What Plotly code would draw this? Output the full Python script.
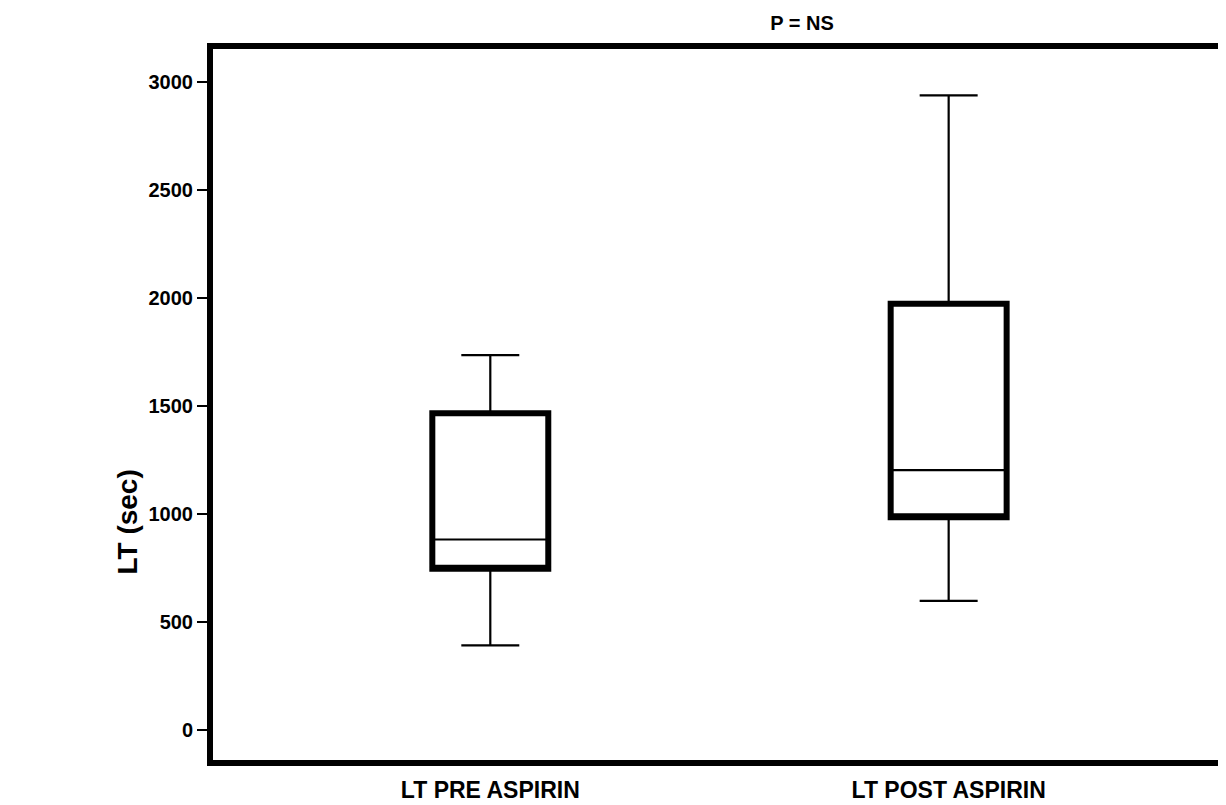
import plotly.graph_objects as go

# box plot summary values (LT in seconds)
groups = ["LT PRE ASPIRIN", "LT POST ASPIRIN"]
lower_fence = [392, 598]
q1 = [746, 985]
median = [882, 1203]
q3 = [1466, 1973]
upper_fence = [1736, 2938]

y_ticks = [0, 500, 1000, 1500, 2000, 2500, 3000]

font_main = "Liberation Sans, Arial, sans-serif"

# the page body has an 8px margin, so the figure is 8px smaller than the window
W, H, PAD = 1226, 805, 8

fig = go.Figure()

# thick outline of the boxes
fig.add_trace(go.Box(
    x=groups,
    q1=q1, median=q1, q3=q3,
    lowerfence=q1, upperfence=q3,
    width=0.253,
    whiskerwidth=0,
    line=dict(color="black", width=6),
    fillcolor="white",
    boxpoints=False,
    hoverinfo="skip",
    showlegend=False,
))

# whiskers, caps and median with thin lines
fig.add_trace(go.Box(
    x=groups,
    q1=q1, median=median, q3=q3,
    lowerfence=lower_fence, upperfence=upper_fence,
    width=0.253,
    whiskerwidth=0.5,
    line=dict(color="black", width=2.2),
    fillcolor="rgba(0,0,0,0)",
    boxpoints=False,
    showlegend=False,
))

fig.update_layout(
    width=W - PAD, height=H - PAD,
    margin=dict(l=213 - PAD, r=0, t=49 - PAD, b=45),
    paper_bgcolor="white",
    plot_bgcolor="white",
    boxmode="overlay",
    font=dict(family=font_main, color="black"),
    title=dict(
        text="<b>P = NS</b>",
        x=(802 - PAD) / (W - PAD), xanchor="center",
        y=1 - (23 - PAD) / (H - PAD), yanchor="middle",
        font=dict(size=20, family=font_main, color="black"),
    ),
)

# y axis label sits below the middle of the plot in the original
fig.add_annotation(
    text="<b>LT (sec)</b>",
    xref="paper", yref="paper",
    x=(126 - 213) / 1013, y=(760 - 522) / 711,
    xanchor="center", yanchor="middle",
    textangle=-90, showarrow=False,
    font=dict(size=28, family=font_main, color="black"),
)

fig.update_xaxes(
    type="category",
    range=[-0.605, 1.592],
    showgrid=False, zeroline=False,
    showline=True, linewidth=6, linecolor="black", mirror=True,
    ticks="",
    ticklabelstandoff=4,
    tickfont=dict(size=23, family=font_main, color="black"),
    tickvals=groups,
    ticktext=["<b>" + g + "</b>" for g in groups],
)

fig.update_yaxes(
    range=[-139, 3153],
    tickvals=y_ticks,
    ticktext=["<b>%d</b>" % v for v in y_ticks],
    showgrid=False, zeroline=False,
    showline=True, linewidth=6, linecolor="black", mirror=True,
    ticks="outside", ticklen=10, tickwidth=1.5, tickcolor="black",
    tickfont=dict(size=20, family=font_main, color="black"),
)

fig.write_html("out.html")
